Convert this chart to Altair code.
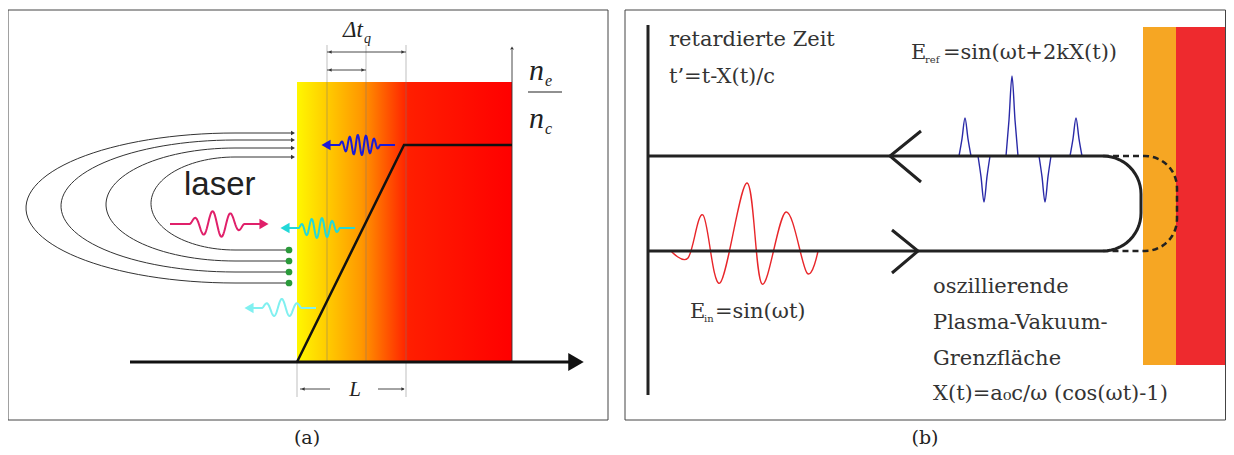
import altair as alt
import numpy as np
import pandas as pd

# ---- panel (a) data ----
arc_top_y = [133, 140, 148, 157]
arc_bot_y = [283, 272, 261, 250]
arc_left_x = [26, 61, 106, 151]
dot_y = [250, 261, 272, 283]
profile_x = [297, 404, 512]
profile_y = [362, 145, 145]
guide_x = [327, 366, 406]
# wave arrows: (x_start, x_end, y, colour, direction, amplitude, cycles)
waves_a = [
    (170, 269, 224, "#e0206a", "right", 13, 3.0),
    (280, 355, 228, "#22d8d8", "left", 10, 4.0),
    (321, 395, 145, "#1a1ad8", "left", 10, 5.0),
    (244, 316, 308, "#80f0f0", "left", 9, 2.5),
]

# ---- panel (b) data ----
upper_y, lower_y = 156, 251
red_x = [671, 688, 703, 720, 747, 762, 786, 807, 818]
red_y = [251, 258, 215, 283, 183, 284, 212, 273, 251]
blue_pulse_x = [965, 984, 1012, 1045, 1076]
blue_pulse_peak = [118, 202, 76, 202, 118]


def seg(rows, gid, xs, ys):
    for i, (x, y) in enumerate(zip(xs, ys)):
        rows.append({"g": gid, "x": float(x), "y": float(y), "o": i})


X = alt.Scale(domain=[8, 1226])
Y = alt.Scale(domain=[447, 8])


def lines(rows, color, width, dash=None, opacity=1.0, interp="linear"):
    kw = dict(color=color, strokeWidth=width, opacity=opacity, interpolate=interp)
    if dash:
        kw["strokeDash"] = dash
    return alt.Chart(pd.DataFrame(rows)).mark_line(**kw).encode(
        x=alt.X("x:Q", scale=X, axis=None),
        y=alt.Y("y:Q", scale=Y, axis=None),
        detail="g:N", order="o:Q")


def heads(df, color, shape, size=90):
    return alt.Chart(pd.DataFrame(df)).mark_point(
        shape=shape, filled=True, color=color, size=size, opacity=1).encode(
        x=alt.X("x:Q", scale=X, axis=None), y=alt.Y("y:Q", scale=Y, axis=None))


def texts(df, size, font="DejaVu Serif", style="normal", color="#222", align="left", baseline="alphabetic"):
    return alt.Chart(pd.DataFrame(df)).mark_text(
        fontSize=size, font=font, fontStyle=style, color=color, align=align,
        baseline=baseline).encode(
        x=alt.X("x:Q", scale=X, axis=None), y=alt.Y("y:Q", scale=Y, axis=None),
        text="t:N")


def rounded(gid, x0, r, yt, yb):
    # horizontal from x0, quarter turns of radius r, vertical side between
    a = np.linspace(np.pi / 2, 0, 15)
    b = np.linspace(0, -np.pi / 2, 15)
    xs = [x0] + list(x0 + r * np.cos(a)) + list(x0 + r * np.cos(b)) + [x0]
    ys = [yt] + list(yt + r - r * np.sin(a)) + list(yb - r - r * np.sin(b)) + [yb]
    rows = []
    seg(rows, gid, xs, ys)
    return rows


layers = []

# frames
frames = pd.DataFrame({"x": [8, 625], "x2": [608, 1225.5], "y": [10, 10], "y2": [420, 420]})
layers.append(alt.Chart(frames).mark_rect(fill="white", stroke="#444", strokeWidth=1).encode(
    x=alt.X("x:Q", scale=X, axis=None), x2="x2", y=alt.Y("y:Q", scale=Y, axis=None), y2="y2"))

# gradient plasma
grad = pd.DataFrame({"x": [297], "x2": [512], "y": [82], "y2": [362]})
layers.append(alt.Chart(grad).mark_rect(fill=alt.Gradient(
    gradient="linear", x1=0, x2=1, y1=0, y2=0,
    stops=[alt.GradientStop(offset=0, color="#fff700"),
           alt.GradientStop(offset=0.12, color="#ffd200"),
           alt.GradientStop(offset=0.3, color="#ff9800"),
           alt.GradientStop(offset=0.52, color="#ff1e00"),
           alt.GradientStop(offset=1, color="#ff0000")])).encode(
    x=alt.X("x:Q", scale=X, axis=None), x2="x2", y=alt.Y("y:Q", scale=Y, axis=None), y2="y2"))

# thin guide lines
thin = []
for i, gx in enumerate(guide_x):
    seg(thin, f"g{i}", [gx, gx], [45, 362])
seg(thin, "gl", [297, 297], [362, 397])
seg(thin, "gr", [406, 406], [362, 397])
layers.append(lines(thin, "#777", 0.8, opacity=0.6))
dim = []
seg(dim, "d1", [327, 406], [52, 52])
seg(dim, "d2", [327, 366], [70, 70])
seg(dim, "d3", [300, 330], [389, 389])
seg(dim, "d4", [378, 404], [389, 389])
seg(dim, "ax", [512, 512], [50, 362])
layers.append(lines(dim, "#333", 0.9))
layers.append(heads([{"x": 330, "y": 52}, {"x": 330, "y": 70}, {"x": 303, "y": 389}], "#333", "triangle-left", 14))
layers.append(heads([{"x": 403, "y": 52}, {"x": 363, "y": 70}, {"x": 403, "y": 389}], "#333", "triangle-right", 14))
layers.append(heads([{"x": 512, "y": 48}], "#333", "triangle-up", 14))

# arcs
arcs = []
for i, (yt, yb, xl) in enumerate(zip(arc_top_y, arc_bot_y, arc_left_x)):
    xc = 235
    cy, ry, rx = (yt + yb) / 2, (yb - yt) / 2, xc - xl
    th = np.linspace(-np.pi / 2, np.pi / 2, 60)
    xs = [292] + list(xc - rx * np.cos(th)) + [289]
    ys = [yt] + list(cy + ry * np.sin(th)) + [yb]
    seg(arcs, f"a{i}", xs, ys)
layers.append(lines(arcs, "#333", 1.0))
layers.append(heads([{"x": 293, "y": y} for y in arc_top_y], "#333", "triangle-right", 22))
layers.append(alt.Chart(pd.DataFrame({"x": [289] * 4, "y": dot_y})).mark_circle(
    size=45, color="#2a9a3a", opacity=1).encode(
    x=alt.X("x:Q", scale=X, axis=None), y=alt.Y("y:Q", scale=Y, axis=None)))

# axis + profile
layers.append(lines([{"g": "a", "x": 130, "y": 362, "o": 0}, {"g": "a", "x": 572, "y": 362, "o": 1}], "#111", 3))
layers.append(heads([{"x": 576, "y": 362}], "#111", "triangle-right", 320))
prof = []
seg(prof, "p", profile_x, profile_y)
layers.append(lines(prof, "#111", 2.5))

# wave arrows
for i, (x0, x1, y, col, d, amp, cyc) in enumerate(waves_a):
    L = x1 - x0
    w0, w1 = x0 + 0.2 * L, x0 + 0.75 * L
    if d == "left":
        w0, w1 = x0 + 0.25 * L, x0 + 0.8 * L
    xs = np.linspace(w0, w1, 120)
    env = np.sin(np.pi * (xs - w0) / (w1 - w0)) ** 0.6
    ys = y - amp * env * np.sin(2 * np.pi * cyc * (xs - w0) / (w1 - w0))
    rows = []
    seg(rows, f"w{i}", [x0 + 6 if d == "left" else x0] + list(xs) + [x1 - 6 if d == "right" else x1],
        [y] + list(ys) + [y])
    layers.append(lines(rows, col, 2))
    hx = x1 - 5 if d == "right" else x0 + 5
    layers.append(heads([{"x": hx, "y": y}], col, "triangle-" + d, 110))

# panel (a) texts
layers.append(texts([{"x": 184, "y": 195, "t": "laser"}], 33, font="Liberation Sans"))
layers.append(texts([{"x": 343, "y": 37, "t": "Δt"}], 23, style="italic", font="Liberation Serif"))
layers.append(texts([{"x": 364, "y": 43, "t": "q"}], 14, style="italic", font="Liberation Serif"))
layers.append(texts([{"x": 355, "y": 396, "t": "L"}], 21, style="italic", align="center", font="Liberation Serif"))
layers.append(texts([{"x": 529, "y": 80, "t": "n"}, {"x": 529, "y": 128, "t": "n"}], 30, style="italic", font="Liberation Serif"))
layers.append(texts([{"x": 545, "y": 86, "t": "e"}, {"x": 545, "y": 134, "t": "c"}], 16, style="italic", font="Liberation Serif"))
layers.append(lines([{"g": "f", "x": 528, "y": 92, "o": 0}, {"g": "f", "x": 562, "y": 92, "o": 1}], "#222", 1.2))

# ---- panel (b) ----
bands = pd.DataFrame({"x": [1143, 1176], "x2": [1176, 1225], "y": [27, 27], "y2": [365, 365],
                      "c": ["#f6a623", "#ee2a2e"]})
layers.append(alt.Chart(bands).mark_rect().encode(
    x=alt.X("x:Q", scale=X, axis=None), x2="x2", y=alt.Y("y:Q", scale=Y, axis=None), y2="y2",
    color=alt.Color("c:N", scale=None)))

# red packet
rr = []
seg(rr, "r", red_x, red_y)
layers.append(lines(rr, "#e8262a", 1.4, interp="cardinal"))
# blue pulses
bp = []
seg(bp, "base", [953, 1084], [upper_y, upper_y])
for i, (px, pk) in enumerate(zip(blue_pulse_x, blue_pulse_peak)):
    seg(bp, f"b{i}", [px - 6, px - 3, px, px + 3, px + 6],
        [upper_y, upper_y + 0.45 * (pk - upper_y), pk, upper_y + 0.45 * (pk - upper_y), upper_y])
layers.append(lines(bp, "#2a2aa8", 1.4, interp="monotone"))

bl = []
seg(bl, "v", [648, 648], [25, 395])
seg(bl, "top", [648, 1103], [upper_y, upper_y])
seg(bl, "bot", [648, 1103], [lower_y, lower_y])
seg(bl, "c1", [921, 890, 921], [131, upper_y, 182])
seg(bl, "c2", [892, 918, 892], [230, lower_y, 273])
layers.append(lines(bl, "#222", 3))
layers.append(lines(rounded("loop", 1103, 38, upper_y, lower_y), "#222", 3))
dl = rounded("dash", 1145, 32, upper_y, lower_y)
dl = [{"g": "dash", "x": 1103.0, "y": float(upper_y), "o": -1}] + dl + \
     [{"g": "dash", "x": 1103.0, "y": float(lower_y), "o": 99}]
layers.append(lines(dl, "#222", 2.5, dash=[6, 4]))

tc = "#333"
layers.append(texts([{"x": 669, "y": 46, "t": "retardierte Zeit"},
                     {"x": 669, "y": 83, "t": "t\u2019=t-X(t)/c"},
                     {"x": 933, "y": 293, "t": "oszillierende"},
                     {"x": 933, "y": 329, "t": "Plasma-Vakuum-"},
                     {"x": 933, "y": 365, "t": "Grenzfläche"},
                     {"x": 933, "y": 400, "t": "X(t)=a\u2080c/\u03c9 (cos(\u03c9t)-1)"}], 21, color=tc))
layers.append(texts([{"x": 911, "y": 59, "t": "E"}, {"x": 690, "y": 318, "t": "E"}], 21, color=tc))
layers.append(texts([{"x": 925, "y": 63, "t": "ref"}, {"x": 704, "y": 322, "t": "in"}], 10, color=tc))
layers.append(texts([{"x": 943, "y": 59, "t": "=sin(\u03c9t+2kX(t))"},
                     {"x": 715, "y": 318, "t": "=sin(\u03c9t)"}], 21, color=tc))

# captions
layers.append(texts([{"x": 307, "y": 438, "t": "(a)"}, {"x": 925, "y": 438, "t": "(b)"}], 19,
                    align="center", baseline="middle"))

chart = alt.layer(*layers).properties(
    width=1218, height=439, padding=0, autosize=alt.AutoSizeParams(type="none")
).configure_view(stroke=None)
chart.save("out.html", embed_options={"renderer": "svg", "actions": False})
